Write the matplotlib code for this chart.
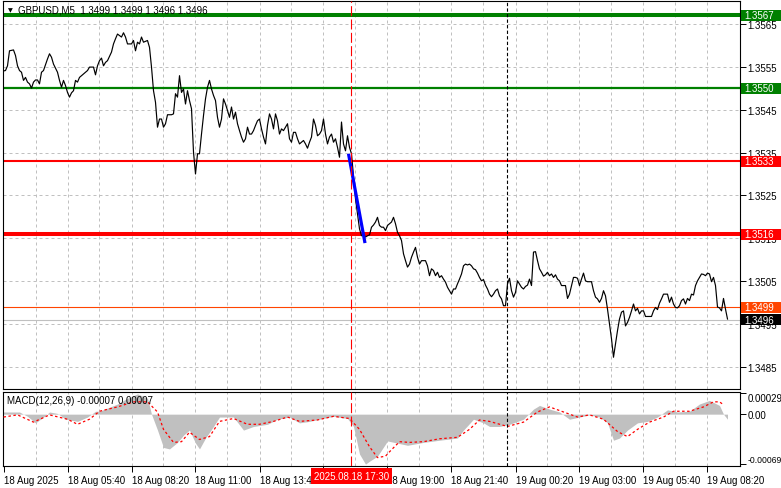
import matplotlib
matplotlib.use("Agg")
import matplotlib.pyplot as plt
from matplotlib.transforms import blended_transform_factory
from matplotlib.patches import Rectangle

plt.rcParams['font.family'] = ['Liberation Sans', 'DejaVu Sans']

# ---------------- data ----------------
price_bar = [
    0, 1, 2, 3, 5, 6, 7, 8, 9, 10,
    11, 12, 13, 14, 15, 16, 17, 18, 19, 20,
    22, 23, 24, 25, 27, 28, 29, 30, 31, 32,
    33, 34, 35, 36, 37, 38, 40, 41, 42, 43,
    44, 45, 46, 47, 48, 49, 50, 51, 52, 54,
    55, 56, 57, 59, 60, 61, 62, 64, 65, 66,
    67, 68, 69, 70, 72, 73, 74, 75, 76, 77,
    78, 79, 80, 81, 82, 84, 85, 86, 87, 88,
    89, 90, 91, 92, 93, 94, 95, 96, 97, 98,
    99, 100, 101, 102, 103, 104, 105, 106, 107, 108,
    109, 110, 111, 112, 113, 114, 115, 116, 117, 118,
    119, 120, 121, 122, 123, 124, 125, 126, 127, 128,
    129, 130, 131, 132, 133, 134, 135, 136, 137, 138,
    139, 140, 142, 143, 144, 145, 146, 147, 148, 149,
    150, 151, 152, 153, 154, 155, 156, 157, 158, 159,
    160, 161, 162, 163, 164, 165, 166, 167, 168, 169,
    170, 171, 172, 173, 174, 175, 176, 177, 178, 179,
    180, 181, 182, 183, 184, 185, 186, 187, 188, 189,
    190, 191, 192, 193, 194, 195, 196, 197, 198, 199,
    200, 201, 202, 203, 204, 205, 206, 207, 208, 209,
    211, 212, 213, 214, 215, 216, 217, 218, 219, 220,
    221, 222, 223, 224, 225, 226, 227, 228, 229, 230,
    231, 232, 233, 234, 235, 236, 237, 238, 239, 240,
    241, 242, 243, 244, 245, 246, 247, 248, 249, 250,
    251, 252, 253, 254, 255, 256, 257, 259, 260, 261,
    262, 263, 264, 265, 266, 267, 268, 269, 270, 271,
    272, 273, 274, 275, 276, 277, 278, 279, 280, 281,
    282, 283, 284, 285, 286, 287, 288, 289, 290, 291,
    292, 293, 294, 295, 296, 297, 298, 299, 300, 301,
    302, 303, 304, 305, 306, 307, 308, 309, 310, 311,
    312, 313, 314, 315, 316, 317, 318, 319, 320, 321,
    322, 324, 325, 326, 327, 328, 329, 330, 331, 332,
    333, 334, 335, 336, 337, 338, 339, 340, 341, 342,
    343, 344, 345, 346, 347, 348, 349, 350, 351, 352,
    353, 354, 355, 356, 357, 358, 359, 360, 361, 362,
]
price_close = [
    1.35540, 1.35541, 1.35552, 1.35587, 1.35589, 1.35576, 1.35552, 1.35541, 1.35537, 1.35518,
    1.35525, 1.35514, 1.35510, 1.35500, 1.35514, 1.35519, 1.35519, 1.35510, 1.35537, 1.35541,
    1.35568, 1.35580, 1.35572, 1.35556, 1.35537, 1.35518, 1.35502, 1.35518, 1.35506, 1.35490,
    1.35479, 1.35489, 1.35494, 1.35518, 1.35514, 1.35525, 1.35533, 1.35537, 1.35541, 1.35549,
    1.35549, 1.35549, 1.35531, 1.35552, 1.35564, 1.35570, 1.35552, 1.35560, 1.35564, 1.35584,
    1.35603, 1.35615, 1.35626, 1.35619, 1.35629, 1.35619, 1.35603, 1.35603, 1.35611, 1.35587,
    1.35607, 1.35603, 1.35619, 1.35607, 1.35611, 1.35595, 1.35549, 1.35494, 1.35467, 1.35409,
    1.35428, 1.35428, 1.35409, 1.35417, 1.35438, 1.35438, 1.35440, 1.35487, 1.35479, 1.35529,
    1.35490, 1.35498, 1.35463, 1.35494, 1.35471, 1.35452, 1.35351, 1.35300, 1.35347, 1.35347,
    1.35393, 1.35436, 1.35475, 1.35502, 1.35518, 1.35498, 1.35483, 1.35471, 1.35432, 1.35409,
    1.35428, 1.35475, 1.35463, 1.35448, 1.35432, 1.35456, 1.35428, 1.35444, 1.35417, 1.35401,
    1.35386, 1.35374, 1.35382, 1.35409, 1.35393, 1.35393, 1.35401, 1.35413, 1.35424, 1.35428,
    1.35405, 1.35386, 1.35370, 1.35413, 1.35440, 1.35428, 1.35405, 1.35440, 1.35424, 1.35393,
    1.35405, 1.35401, 1.35417, 1.35382, 1.35374, 1.35397, 1.35397, 1.35382, 1.35370, 1.35374,
    1.35378, 1.35370, 1.35360, 1.35374, 1.35386, 1.35428, 1.35413, 1.35389, 1.35393, 1.35401,
    1.35428, 1.35393, 1.35370, 1.35386, 1.35393, 1.35374, 1.35382, 1.35362, 1.35339, 1.35421,
    1.35370, 1.35354, 1.35389, 1.35362, 1.35347, 1.35293, 1.35242, 1.35207, 1.35172, 1.35156,
    1.35160, 1.35153, 1.35156, 1.35158, 1.35176, 1.35181, 1.35188, 1.35199, 1.35180, 1.35176,
    1.35176, 1.35168, 1.35180, 1.35184, 1.35188, 1.35199, 1.35184, 1.35164, 1.35156, 1.35145,
    1.35114, 1.35098, 1.35083, 1.35090, 1.35106, 1.35118, 1.35129, 1.35106, 1.35090, 1.35098,
    1.35098, 1.35086, 1.35063, 1.35079, 1.35075, 1.35063, 1.35071, 1.35059, 1.35063, 1.35055,
    1.35048, 1.35036, 1.35028, 1.35020, 1.35032, 1.35032, 1.35044, 1.35055, 1.35067, 1.35086,
    1.35090, 1.35088, 1.35090, 1.35086, 1.35079, 1.35077, 1.35069, 1.35059, 1.35051, 1.35054,
    1.35041, 1.35032, 1.35020, 1.35014, 1.35020, 1.35028, 1.35032, 1.35016, 1.35009, 1.34993,
    1.34993, 1.35044, 1.35057, 1.35028, 1.35013, 1.35024, 1.35051, 1.35036, 1.35032, 1.35038,
    1.35041, 1.35055, 1.35040, 1.35118, 1.35119, 1.35098, 1.35079, 1.35071, 1.35062, 1.35065,
    1.35071, 1.35063, 1.35067, 1.35059, 1.35065, 1.35055, 1.35051, 1.35040, 1.35040, 1.35040,
    1.35010, 1.35020, 1.35040, 1.35059, 1.35059, 1.35057, 1.35040, 1.35055, 1.35069, 1.35051,
    1.35049, 1.35049, 1.35049, 1.35028, 1.35013, 1.35009, 1.35001, 1.35010, 1.35028, 1.35016,
    1.34985, 1.34950, 1.34916, 1.34873, 1.34904, 1.34935, 1.34962, 1.34978, 1.34981, 1.34946,
    1.34954, 1.34966, 1.34981, 1.34997, 1.34981, 1.34987, 1.34974, 1.34981, 1.34981, 1.34968,
    1.34968, 1.34968, 1.34981, 1.34989, 1.34984, 1.34999, 1.35009, 1.35020, 1.35020, 1.35020,
    1.35001, 1.35013, 1.34997, 1.34989, 1.34988, 1.34993, 1.35005, 1.35009, 1.34997, 1.35010,
    1.35005, 1.35020, 1.35018, 1.35040, 1.35051, 1.35059, 1.35067, 1.35066, 1.35063, 1.35069,
    1.35067, 1.35049, 1.35059, 1.35040, 1.34990, 1.34988, 1.34981, 1.35010, 1.34985, 1.34962,
]

# blue drawn trend segment
blue_bar = [172.5, 180.75]
blue_price = [1.35347, 1.35139]

# horizontal levels
level_price = [1.3567, 1.3550, 1.3533, 1.3516, 1.3499, 1.3496]
level_color = ['#008000', '#008000', '#FF0000', '#FF0000', '#FF4500', '#C0C0C0']
level_width = [2.9, 1.6, 1.5, 2.9, 0.8, 0.8]
tag_color = ['#008000', '#008000', '#FF0000', '#FF0000', '#FF4500', '#000000']

# MACD histogram (main) and signal
macd_bar = [0, 8, 12, 16, 20, 23, 27, 31, 37, 42, 46, 48, 57, 62, 67, 72, 74, 77, 80, 83,
            87, 90, 93, 96, 98, 101, 105, 108, 115, 120, 125, 132, 137, 143, 148, 153, 158, 165, 172, 175,
            178, 181, 183, 187, 192, 202, 210, 218, 227, 230, 235, 240, 243, 248, 253, 260, 265, 268, 273, 278,
            283, 288, 293, 298, 302, 305, 308, 312, 317, 322, 327, 332, 337, 343, 348, 353, 358, 360, 362]
macd_main = [0.00003, 0.00003, -0.00003, -0.00012, -0.00004, 0.00003, 0.00001, -0.00007, -0.00010, -0.00004,
             0.00004, 0.00004, 0.00014, 0.00022, 0.00028, 0.00022, 0.00000, -0.00022, -0.00046, -0.00048,
             -0.00039, -0.00029, -0.00022, -0.00040, -0.00048, -0.00033, -0.00017, -0.00004, -0.00004, -0.00022,
             -0.00017, -0.00014, -0.00007, -0.00004, -0.00012, -0.00010, -0.00007, -0.00003, -0.00006, -0.00017,
             -0.00055, -0.00069, -0.00065, -0.00058, -0.00037, -0.00043, -0.00039, -0.00036, -0.00033, -0.00022,
             -0.00007, -0.00012, -0.00017, -0.00017, -0.00014, -0.00007, 0.00007, 0.00012, 0.00007, 0.00003,
             -0.00007, -0.00004, -0.00001, -0.00004, -0.00012, -0.00036, -0.00033, -0.00022, -0.00012, -0.00010,
             -0.00004, 0.00006, 0.00003, 0.00004, 0.00014, 0.00019, 0.00012, 0.00000, -0.00007]
signal_bar = [0, 7, 15, 23, 32, 37, 43, 48, 57, 65, 72, 77, 80, 85, 89, 93, 98, 103, 108, 115,
              122, 128, 135, 142, 148, 157, 165, 173, 178, 183, 187, 191, 193, 198, 203, 210, 218, 227, 233, 238,
              243, 252, 260, 267, 273, 280, 287, 293, 300, 307, 312, 317, 323, 330, 335, 343, 350, 355, 358, 360]
signal_val = [-0.00004, -0.00001, -0.00011, -0.00001, -0.00007, -0.00014, -0.00007, 0.00004, 0.00010, 0.00017,
              0.00017, 0.00003, -0.00021, -0.00039, -0.00038, -0.00025, -0.00035, -0.00031, -0.00010, -0.00006,
              -0.00014, -0.00014, -0.00010, -0.00004, -0.00010, -0.00008, -0.00003, -0.00006, -0.00021, -0.00045,
              -0.00060, -0.00058, -0.00052, -0.00038, -0.00039, -0.00038, -0.00034, -0.00032, -0.00021, -0.00008,
              -0.00010, -0.00017, -0.00011, 0.00003, 0.00010, 0.00003, -0.00004, -0.00001, -0.00007, -0.00024,
              -0.00031, -0.00021, -0.00011, -0.00004, 0.00004, 0.00004, 0.00010, 0.00017, 0.00017, 0.00013]

price_ticks = [1.3485, 1.3495, 1.3505, 1.3515, 1.3525, 1.3535, 1.3545, 1.3555, 1.3565]
macd_ticks = [0.00029, 0.0, -0.00069]
macd_tick_labels = ['0.00029', '0.00', '-0.00069']
time_bar = [0, 32, 64, 96, 128, 160, 192, 224, 256, 288, 320, 352]
time_labels = ['18 Aug 2025', '18 Aug 05:40', '18 Aug 08:20', '18 Aug 11:00', '18 Aug 13:40',
               '', '18 Aug 19:00', '18 Aug 21:40', '19 Aug 00:20', '19 Aug 03:00',
               '19 Aug 05:40', '19 Aug 08:20']
grid_bar = list(range(16, 368, 16))
cursor_bar = 174
cursor_label = '2025.08.18 17:30'
day_sep_bar = 252

# ---------------- figure ----------------
W, H = 781, 489
fig = plt.figure(figsize=(W / 100, H / 100), dpi=100)


def frac(x0, y0, x1, y1):
    return [x0 / W, 1 - y1 / H, (x1 - x0) / W, (y1 - y0) / H]


ax = fig.add_axes(frac(2.7, 2, 740.3, 390))
ax2 = fig.add_axes(frac(2.7, 392.7, 740.3, 467.3))

XL = (-0.4, 368.4)
ax.set_xlim(XL)
ax2.set_xlim(XL)
ax.set_ylim(1.34799, 1.35703)
ax2.set_ylim(-0.00072, 0.00031)

FS = 7
GRID = dict(color='#C0C0C0', lw=0.72, ls=(0, (3, 3)), zorder=0.5)
for b in grid_bar:
    ax.axvline(b, **GRID)
    ax2.axvline(b, **GRID)
for p in price_ticks:
    ax.axhline(p, **GRID)

for p, c, w in zip(level_price, level_color, level_width):
    ax.axhline(p, color=c, lw=w, zorder=2)

ax.plot(price_bar, price_close, color='black', lw=0.85, zorder=3)
ax.plot(blue_bar, blue_price, color='#0000FF', lw=2.3, zorder=4, solid_capstyle='butt')

for a in (ax, ax2):
    a.axvline(cursor_bar, color='#FF0000', lw=0.8, ls=(0, (9, 3)), zorder=5)
    a.axvline(day_sep_bar, color='black', lw=0.8, ls=(0, (3, 2)), zorder=5)

# MACD
ax2.fill_between(macd_bar, macd_main, 0, color='#C0C0C0', lw=0, zorder=1)
ax2.plot(signal_bar, signal_val, color='#FF0000', lw=0.9, ls=(0, (2, 2)), zorder=3)

# axes styling
for a in (ax, ax2):
    for s in a.spines.values():
        s.set_color('black')
        s.set_linewidth(0.8)
    a.yaxis.tick_right()
    a.tick_params(axis='y', direction='out', length=4, width=0.7, pad=1,
                  labelsize=FS, colors='black')

ax.set_yticks(price_ticks)
ax.set_yticklabels([f'{p:.4f}' for p in price_ticks])
ax.tick_params(axis='x', bottom=False, labelbottom=False)

ax2.set_yticks(macd_ticks)
lbls = ax2.set_yticklabels(macd_tick_labels)
lbls[0].set_va('top')
lbls[-1].set_va('bottom')
lbls[-1].set_fontsize(6.2)

ax2.set_xticks(time_bar)
xl = ax2.set_xticklabels(time_labels, fontsize=FS)
for t in xl:
    t.set_ha('left')
ax2.tick_params(axis='x', direction='out', length=4, width=0.7, pad=2)

# price tags on the right scale
tr = blended_transform_factory(ax.transAxes, ax.transData)
axw = 740.3 - 2.7
pxp = (1.35703 - 1.34799) / 388.0
for p, c in zip(level_price, tag_color):
    ax.add_patch(Rectangle(((741 - 2.7) / axw, p - 5.5 * pxp), 41 / axw, 11 * pxp,
                           transform=tr, facecolor=c, edgecolor='none',
                           clip_on=False, zorder=10))
    ax.text((744 - 2.7) / axw, p, f'{p:.4f}', transform=tr, color='white',
            fontsize=FS, va='center', ha='left', clip_on=False, zorder=11)

# headers
fig.text(7.5 / W, 1 - 11 / H, '\u25BC', fontsize=4.5, family='DejaVu Sans',
         va='center', ha='left', zorder=20)
fig.text(18 / W, 1 - 10.5 / H, 'GBPUSD,M5  1.3499 1.3499 1.3496 1.3496',
         fontsize=FS, va='center', ha='left', zorder=20)
fig.text(7 / W, 1 - 401.5 / H, 'MACD(12,26,9) -0.00007 0.00007',
         fontsize=FS, va='center', ha='left', zorder=20)

# cursor time label
trx = blended_transform_factory(ax2.transData, fig.transFigure)
ax2.text(cursor_bar, 1 - 477 / H, cursor_label, transform=trx, color='white',
         fontsize=FS, ha='center', va='center', clip_on=False, zorder=20,
         bbox=dict(boxstyle='square,pad=0.3', facecolor='#FF0000', edgecolor='none'))

fig.savefig('out.png', dpi=100)
